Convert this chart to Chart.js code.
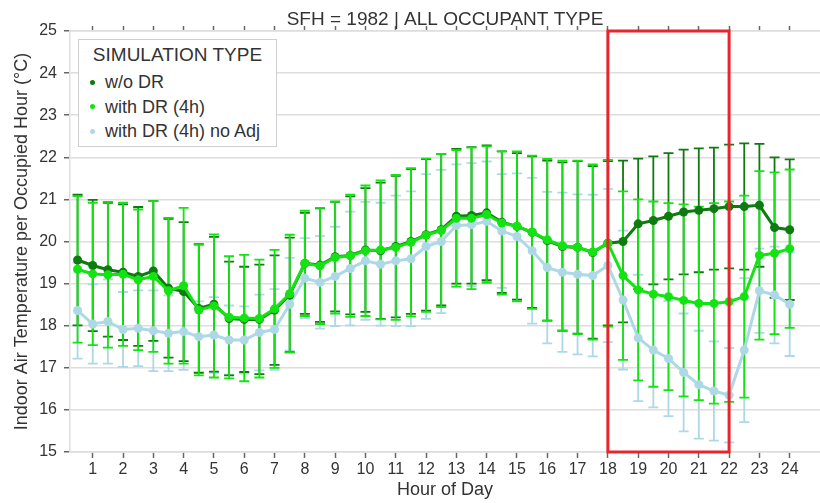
<!DOCTYPE html>
<html>
<head>
<meta charset="utf-8">
<title>SFH = 1982 | ALL OCCUPANT TYPE</title>
<script src="https://cdn.jsdelivr.net/npm/chart.js@4.4.1/dist/chart.umd.min.js"></script>
<style>
    html, body { margin: 0; padding: 0; background: #ffffff; }
    #wrap { position: relative; width: 820px; height: 503px; }
    #legend {
        position: absolute; left: 78px; top: 39px; width: 197px; height: 106px;
        border: 1px solid #cfcfcf; background: #ffffff;
        font-family: "Liberation Sans", Arial, sans-serif; color: #333333;
    }
    #legend .title { margin-top: 5px; height: 20px; line-height: 20px; font-size: 19px; text-align: center; }
    #legend .items { padding-top: 5px; }
    #legend .item { height: 24.5px; line-height: 24.5px; font-size: 18px; white-space: nowrap; }
    #legend .dot { display: inline-block; width: 5px; height: 5px; border-radius: 50%; margin: 0 10px 0 11px; vertical-align: middle; position: relative; top: -1px; }
</style>
</head>
<body>
<div id="wrap">
    <canvas id="temp-chart" width="820" height="503"></canvas>
    <div id="legend"></div>
</div>
<script>
// Hora do dia (pontos a cada meia hora)
const HOURS = [0.5, 1, 1.5, 2, 2.5, 3, 3.5, 4, 4.5, 5, 5.5, 6, 6.5, 7, 7.5, 8,
    8.5, 9, 9.5, 10, 10.5, 11, 11.5, 12, 12.5, 13, 13.5, 14, 14.5, 15, 15.5, 16,
    16.5, 17, 17.5, 18, 18.5, 19, 19.5, 20, 20.5, 21, 21.5, 22, 22.5, 23, 23.5, 24];

const HOUR_TICKS = [1, 2, 3, 4, 5, 6, 7, 8, 9, 10, 11, 12, 13, 14, 15, 16, 17, 18, 19, 20, 21, 22, 23, 24];
const TEMP_TICKS = [15, 16, 17, 18, 19, 20, 21, 22, 23, 24, 25];

// Janela de DR (retângulo vermelho)
const DR_WINDOW = [18, 22];

// w/o DR
const WO_DR_MEAN = [19.56, 19.43, 19.33, 19.27, 19.17, 19.30, 18.89, 18.81, 18.41, 18.51, 18.17, 18.15, 18.15, 18.37, 18.73, 19.48,
    19.44, 19.64, 19.67, 19.80, 19.78, 19.88, 20.00, 20.16, 20.28, 20.60, 20.62, 20.68, 20.46, 20.36, 20.22, 20.02,
    19.88, 19.86, 19.74, 19.96, 20.00, 20.42, 20.50, 20.60, 20.70, 20.74, 20.78, 20.83, 20.83, 20.86, 20.33, 20.28];
const WO_DR_SD = [1.55, 1.56, 1.59, 1.61, 1.65, 1.66, 1.65, 1.65, 1.53, 1.60, 1.35, 1.25, 1.30, 1.30, 1.36, 1.20,
    1.35, 1.30, 1.40, 1.47, 1.62, 1.68, 1.72, 1.80, 1.80, 1.60, 1.62, 1.60, 1.68, 1.74, 1.80, 1.90,
    2.00, 2.05, 2.05, 1.95, 1.92, 1.55, 1.52, 1.50, 1.48, 1.47, 1.45, 1.47, 1.50, 1.46, 1.67, 1.67];

// with DR (4h)
const DR4_MEAN = [19.34, 19.23, 19.21, 19.22, 19.09, 19.17, 18.83, 18.95, 18.37, 18.47, 18.20, 18.18, 18.17, 18.40, 18.76, 19.48,
    19.42, 19.62, 19.66, 19.78, 19.80, 19.86, 19.98, 20.15, 20.26, 20.55, 20.55, 20.64, 20.44, 20.36, 20.22, 20.04,
    19.90, 19.86, 19.75, 19.96, 19.19, 18.85, 18.75, 18.69, 18.60, 18.53, 18.53, 18.57, 18.69, 19.67, 19.72, 19.83];
const DR4_SD = [1.74, 1.69, 1.73, 1.70, 1.67, 1.79, 1.73, 1.85, 1.55, 1.70, 1.45, 1.50, 1.40, 1.40, 1.40, 1.25,
    1.38, 1.33, 1.45, 1.55, 1.65, 1.72, 1.76, 1.82, 1.82, 1.62, 1.68, 1.62, 1.70, 1.78, 1.82, 1.92,
    2.02, 2.06, 2.08, 1.98, 2.00, 2.15, 2.20, 2.22, 2.28, 2.30, 2.38, 2.38, 2.40, 2.00, 1.92, 1.88];

// with DR (4h) no Adj
const NOADJ_MEAN = [18.36, 18.04, 18.10, 17.91, 17.94, 17.88, 17.82, 17.86, 17.74, 17.78, 17.66, 17.66, 17.84, 17.91, 18.51, 19.13,
    19.03, 19.17, 19.36, 19.54, 19.46, 19.54, 19.59, 19.88, 20.00, 20.38, 20.40, 20.48, 20.25, 20.12, 19.78, 19.38,
    19.27, 19.22, 19.19, 19.43, 18.61, 17.71, 17.42, 17.22, 16.89, 16.60, 16.45, 16.35, 17.42, 18.83, 18.73, 18.51];
const NOADJ_SD = [1.14, 0.94, 1.00, 0.89, 0.90, 0.96, 0.90, 0.91, 0.84, 0.90, 0.82, 0.80, 0.90, 0.96, 1.10, 0.95,
    1.10, 1.18, 1.35, 1.40, 1.46, 1.55, 1.60, 1.72, 1.70, 1.45, 1.46, 1.42, 1.35, 1.50, 1.73, 1.80,
    1.89, 1.90, 1.92, 1.82, 1.65, 1.50, 1.36, 1.37, 1.40, 1.28, 1.18, 1.12, 1.71, 1.00, 1.15, 1.23];

const COLORS = {
    woDr: '#0f7a0f',
    dr4: '#13e313',
    noAdj: '#add8e6',
    grid: '#dddddd',
    tick: '#666666',
    text: '#333333',
    drBox: '#e8242c'
};

const FONT = "'Liberation Sans', Arial, sans-serif";

function toPoints(means) {
    return HOURS.map((h, i) => ({ x: h, y: means[i] }));
}

function makeDataset(label, means, sds, color) {
    return {
        label: label,
        data: toPoints(means),
        sd: sds,
        borderColor: color,
        backgroundColor: color,
        borderWidth: 3,
        pointRadius: 4.5,
        pointBorderWidth: 0,
        pointBackgroundColor: color,
        tension: 0,
        fill: false
    };
}

// Barras de erro (média ± desvio), desenhadas antes das linhas
const errorBarsPlugin = {
    id: 'errorBars',
    beforeDatasetsDraw(chart) {
        const { ctx, scales: { x, y } } = chart;
        ctx.save();
        // azul primeiro, depois verde escuro, verde claro por cima
        [2, 1, 0].forEach(idx => {
            const ds = chart.data.datasets[idx];
            ctx.strokeStyle = ds.borderColor;
            ctx.lineWidth = 1.8;
            ds.data.forEach((p, j) => {
                const px = x.getPixelForValue(p.x);
                const yTop = y.getPixelForValue(p.y + ds.sd[j]);
                const yBot = y.getPixelForValue(p.y - ds.sd[j]);
                ctx.beginPath();
                ctx.moveTo(px, yTop);
                ctx.lineTo(px, yBot);
                ctx.moveTo(px - 5, yTop);
                ctx.lineTo(px + 5, yTop);
                ctx.moveTo(px - 5, yBot);
                ctx.lineTo(px + 5, yBot);
                ctx.stroke();
            });
        });
        ctx.restore();
    }
};

// Retângulo vermelho marcando a janela de DR
const drWindowPlugin = {
    id: 'drWindow',
    afterDatasetsDraw(chart) {
        const { ctx, scales: { x, y } } = chart;
        const x1 = x.getPixelForValue(DR_WINDOW[0]);
        const x2 = x.getPixelForValue(DR_WINDOW[1]);
        const y1 = y.getPixelForValue(y.max);
        const y2 = y.getPixelForValue(y.min);
        ctx.save();
        ctx.strokeStyle = COLORS.drBox;
        ctx.lineWidth = 3;
        ctx.strokeRect(x1, y1, x2 - x1, y2 - y1);
        ctx.restore();
    }
};

Chart.defaults.font.family = FONT;
Chart.defaults.color = COLORS.text;

const ctx = document.getElementById('temp-chart').getContext('2d');

const tempChart = new Chart(ctx, {
    type: 'line',
    data: {
        datasets: [
            makeDataset('with DR (4h)', DR4_MEAN, DR4_SD, COLORS.dr4),
            makeDataset('w/o DR', WO_DR_MEAN, WO_DR_SD, COLORS.woDr),
            makeDataset('with DR (4h) no Adj', NOADJ_MEAN, NOADJ_SD, COLORS.noAdj)
        ]
    },
    options: {
        responsive: false,
        animation: false,
        layout: { padding: 0, autoPadding: false },
        plugins: {
            legend: { display: false },  // legenda em HTML
            tooltip: { enabled: false },
            title: {
                display: true,
                fullSize: false,  // centralizado sobre a área do gráfico
                text: 'SFH = 1982 | ALL OCCUPANT TYPE',
                color: COLORS.text,
                font: { size: 19, weight: 'normal' },
                lineHeight: 1.1,
                padding: { top: 8.2, bottom: 0 }
            }
        },
        scales: {
            x: {
                type: 'linear',
                position: 'bottom',
                min: 0.25,
                max: 25,
                afterBuildTicks: (scale) => { scale.ticks = HOUR_TICKS.map(v => ({ value: v })); },
                afterFit: (scale) => { scale.height = 51; },
                ticks: { color: COLORS.text, font: { size: 16 }, padding: 2, maxRotation: 0, autoSkip: false },
                grid: { drawOnChartArea: false, tickLength: 6, tickColor: COLORS.tick, tickWidth: 1.5 },
                border: { color: COLORS.grid, width: 1.5 },
                title: { display: true, text: 'Hour of Day', color: COLORS.text, font: { size: 18 }, padding: { top: 0, bottom: 2 } }
            },
            xTop: {
                type: 'linear',
                position: 'top',
                min: 0.25,
                max: 25,
                afterBuildTicks: (scale) => { scale.ticks = HOUR_TICKS.map(v => ({ value: v })); },
                afterFit: (scale) => { scale.height = 0; },
                ticks: { display: false },
                grid: { drawOnChartArea: false, tickLength: 5, tickColor: COLORS.tick, tickWidth: 1.5 },
                border: { color: COLORS.grid, width: 1.5 }
            },
            y: {
                min: 15,
                max: 25,
                afterBuildTicks: (scale) => { scale.ticks = TEMP_TICKS.map(v => ({ value: v })); },
                afterFit: (scale) => { scale.width = 70; },
                ticks: { color: COLORS.text, font: { size: 16 }, padding: 7 },
                grid: { color: COLORS.grid, lineWidth: 1.5, tickLength: 6, tickColor: COLORS.tick, tickWidth: 1.5 },
                border: { color: COLORS.grid, width: 1.5 },
                title: {
                    display: true,
                    text: 'Indoor Air Temperature per Occupied Hour (°C)',
                    color: COLORS.text,
                    font: { size: 18 },
                    padding: { top: 11, bottom: 0 }
                }
            }
        }
    },
    plugins: [errorBarsPlugin, drWindowPlugin]
});

// Legenda HTML customizada
function createLegend(containerId, items) {
    const container = document.getElementById(containerId);
    if (!container) return;
    container.innerHTML = '<div class="title">SIMULATION TYPE</div>';
    const list = document.createElement('div');
    list.className = 'items';
    items.forEach(item => {
        const row = document.createElement('div');
        row.className = 'item';
        row.innerHTML = `<span class="dot" style="background-color: ${item.color}"></span><span>${item.label}</span>`;
        list.appendChild(row);
    });
    container.appendChild(list);
}

createLegend('legend', [
    { label: 'w/o DR', color: COLORS.woDr },
    { label: 'with DR (4h)', color: COLORS.dr4 },
    { label: 'with DR (4h) no Adj', color: COLORS.noAdj }
]);
</script>
</body>
</html>
